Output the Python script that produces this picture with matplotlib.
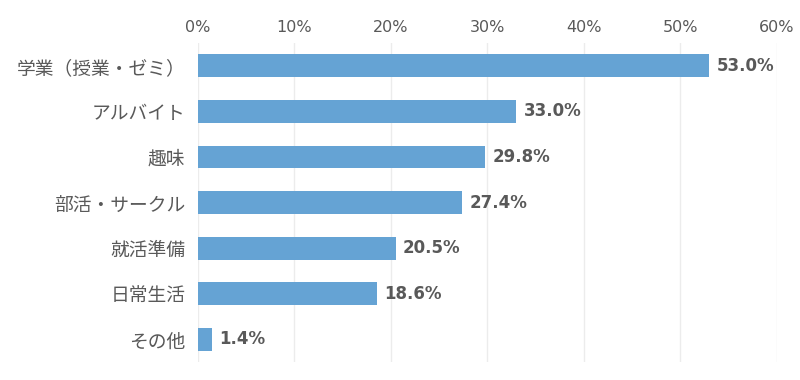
import numpy as np
import matplotlib
matplotlib.use('Agg')
import matplotlib.pyplot as plt
from matplotlib.ticker import FuncFormatter

plt.rcParams['font.family'] = ['Noto Sans CJK JP', 'DejaVu Sans']

CATEGORIES = ['学業（授業・ゼミ）', 'アルバイト', '趣味', '部活・サークル',
              '就活準備', '日常生活', 'その他']
VALUES = [53.0, 33.0, 29.8, 27.4, 20.5, 18.6, 1.4]

BAR_COLOR = '#65a3d4'
TEXT_COLOR = '#595959'

fig = plt.figure(figsize=(8, 3.8), dpi=100)
ax = fig.add_axes([0.2475, 0.047, 0.7235, 0.84])

y = np.arange(len(CATEGORIES))
ax.barh(y, VALUES, height=0.5, color=BAR_COLOR, zorder=2)

for yi, v in zip(y, VALUES):
  ax.text(v + 0.75, yi, '%.1f%%' % v, va='center', ha='left',
          fontsize=12, fontweight='bold', color=TEXT_COLOR,
          family='DejaVu Sans')

ax.set_xlim(0, 60)
ax.set_ylim(len(CATEGORIES) - 0.5, -0.5)
ax.set_xticks(np.arange(0, 61, 10))
ax.xaxis.set_major_formatter(FuncFormatter(lambda x, p: '%d%%' % x))
ax.xaxis.tick_top()
ax.set_yticks(y)
ax.set_yticklabels(CATEGORIES)
ax.tick_params(axis='both', length=0, colors=TEXT_COLOR)
ax.tick_params(axis='x', labelsize=11.5, pad=6)
ax.tick_params(axis='y', labelsize=13.5, pad=9)
for lbl in ax.get_xticklabels():
  lbl.set_family('DejaVu Sans')
ax.grid(axis='x', color='#ececec', linewidth=1, zorder=0)
for s in ax.spines.values():
  s.set_visible(False)

fig.savefig('out.png', dpi=100)
